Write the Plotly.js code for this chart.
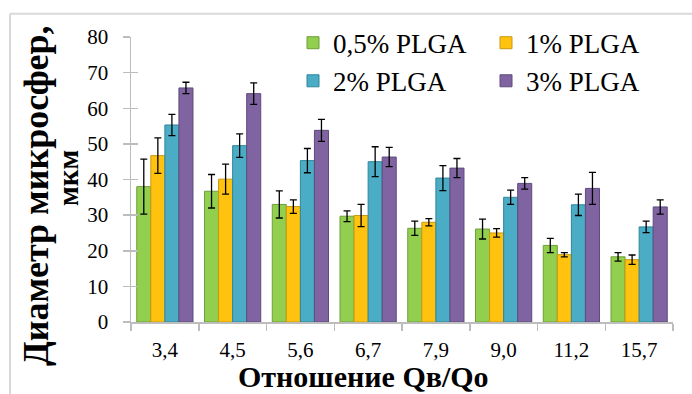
<!DOCTYPE html>
<html>
<head>
<meta charset="utf-8">
<script src="https://cdn.plot.ly/plotly-3.0.1.min.js"></script>
<style>
html,body{margin:0;padding:0;background:#fff;}
#chart{width:692px;height:394px;}
</style>
</head>
<body>
<div id="chart"></div>
<script>
const categories = ["3,4", "4,5", "5,6", "6,7", "7,9", "9,0", "11,2", "15,7"];
const seriesNames = ["0,5% PLGA", "1% PLGA", "2% PLGA", "3% PLGA"];
const plga05 = [38.0, 36.7, 33.0, 29.7, 26.3, 26.1, 21.5, 18.3];
const plga05Err = [7.7, 4.7, 3.8, 1.5, 2.0, 2.8, 2.0, 1.2];
const plga1 = [46.7, 40.1, 32.4, 29.9, 28.0, 25.0, 18.9, 17.5];
const plga1Err = [5.0, 4.2, 1.9, 3.1, 1.0, 1.2, 0.6, 1.3];
const plga2 = [55.3, 49.5, 45.3, 45.0, 40.4, 35.0, 32.9, 26.7];
const plga2Err = [3.0, 3.3, 3.4, 4.2, 3.5, 2.0, 3.0, 1.6];
const plga3 = [65.7, 64.1, 53.8, 46.3, 43.2, 38.9, 37.5, 32.3];
const plga3Err = [1.6, 3.0, 3.1, 2.7, 2.7, 1.6, 4.5, 2.0];
const yTicks = [0, 10, 20, 30, 40, 50, 60, 70, 80];

const values = [plga05, plga1, plga2, plga3];
const errs = [plga05Err, plga1Err, plga2Err, plga3Err];
const fills = ["#92cf4f", "#ffc20e", "#4bacc6", "#8064a2"];
const edges = ["#6f9e3a", "#c99a10", "#31869b", "#5e4a7d"];
const legends = ["legend", "legend", "legend2", "legend2"];

const serif = "Liberation Serif";
const regular = {family: serif, color: "#000", weight: 400, style: "normal", variant: "normal"};

const traces = values.map((v, i) => ({
  type: "bar",
  name: seriesNames[i],
  x: categories,
  y: v,
  legend: legends[i],
  marker: {color: fills[i], line: {color: edges[i], width: 1}},
  error_y: {type: "data", array: errs[i], visible: true, color: "#000", thickness: 1.3, width: 3.5}
}));
// empty helper trace so the mirrored tick axis (inner half of the crossing ticks) is drawn
traces.push({type: "scatter", x: [], y: [], yaxis: "y2", showlegend: false, hoverinfo: "skip"});

const L = 131, R = 673, T = 37.3, B = 321.7;
const px = p => (p - L) / (R - L);
const py = p => (B - p) / (B - T);

const legendBase = {
  orientation: "h", xanchor: "left", yanchor: "top",
  font: Object.assign({}, regular, {size: 27}),
  bgcolor: "rgba(0,0,0,0)", entrywidth: 148, entrywidthmode: "pixels", traceorder: "normal"
};

const layout = {
  width: 692, height: 394,
  margin: {l: L, r: 692 - R, t: T, b: 394 - B, autoexpand: false},
  paper_bgcolor: "#fff", plot_bgcolor: "rgba(0,0,0,0)",
  barmode: "group", bargap: 0.17, bargroupgap: 0,
  font: Object.assign({}, regular, {size: 21}),
  showlegend: true,
  legend: Object.assign({}, legendBase, {x: px(293), y: py(19)}),
  legend2: Object.assign({}, legendBase, {x: px(293), y: py(57)}),
  xaxis: {
    type: "category", showgrid: false, zeroline: false,
    showline: true, linecolor: "#bdbdbd", linewidth: 1.5,
    ticks: "outside", tickson: "boundaries", ticklen: 7, tickcolor: "#bdbdbd", tickwidth: 1.5,
    tickfont: Object.assign({}, regular, {size: 21}), ticklabelstandoff: 8
  },
  yaxis: {
    range: [0, 80], tickvals: yTicks, showgrid: false, zeroline: false,
    showline: true, linecolor: "#bdbdbd", linewidth: 1.5,
    ticks: "outside", ticklen: 7, tickcolor: "#bdbdbd", tickwidth: 1.5,
    tickfont: Object.assign({}, regular, {size: 21}), ticklabelstandoff: 10
  },
  yaxis2: {
    overlaying: "y", range: [0, 80], tickvals: yTicks, showticklabels: false,
    showgrid: false, zeroline: false, showline: false,
    ticks: "inside", ticklen: 7, tickcolor: "#bdbdbd", tickwidth: 1.5
  },
  annotations: [
    {text: "Диаметр микросфер,", xref: "paper", yref: "paper", x: px(36), y: py(196),
     xanchor: "center", yanchor: "middle",
     textangle: -90, showarrow: false, font: {family: serif, size: 36, color: "#000", weight: "bold"}},
    {text: "мкм", xref: "paper", yref: "paper", x: px(68), y: py(178),
     xanchor: "center", yanchor: "middle",
     textangle: -90, showarrow: false, font: {family: serif, size: 29, color: "#000", weight: "bold"}},
    {text: "Отношение Qв/Qo", xref: "paper", yref: "paper", x: px(363), y: py(376),
     xanchor: "center", yanchor: "middle",
     showarrow: false, font: {family: serif, size: 30, color: "#000", weight: "bold"}}
  ],
  shapes: [
    {type: "line", xref: "paper", yref: "paper", x0: px(10), x1: px(10), y0: py(14), y1: py(400),
     line: {color: "#d9d9d9", width: 2}},
    {type: "line", xref: "paper", yref: "paper", x0: px(10), x1: px(700), y0: py(14), y1: py(14),
     line: {color: "#d9d9d9", width: 2}}
  ]
};

Plotly.newPlot("chart", traces, layout, {displayModeBar: false, staticPlot: true});
</script>
</body>
</html>
